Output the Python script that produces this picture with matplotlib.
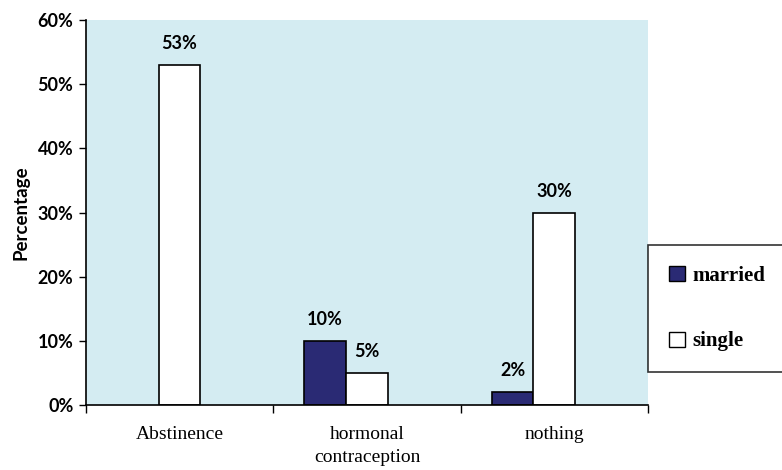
import matplotlib.pyplot as plt
import numpy as np
from matplotlib.patches import Patch

categories = ["Abstinence", "hormonal\ncontraception", "nothing"]
married = [0, 10, 2]
single = [53, 5, 30]
series_names = ["married", "single"]
y_ticks = [0, 10, 20, 30, 40, 50, 60]

MARRIED_COLOR = "#2a2a74"
BG_COLOR = "#d4ecf2"
SANS = ["Lato", "DejaVu Sans"]
SERIF = ["Liberation Serif", "DejaVu Serif"]

fig = plt.figure(figsize=(7.82, 4.70), dpi=100)
ax = fig.add_axes([86 / 782, 1 - 405 / 470, 562 / 782, 385 / 470])
ax.set_facecolor(BG_COLOR)

x = np.arange(len(categories))
width = 0.222
offset = -0.112
married_h = [m if m > 0 else np.nan for m in married]
ax.bar(x + offset - width / 2, married_h, width, color=MARRIED_COLOR,
       edgecolor="black", linewidth=1.2, zorder=3)
ax.bar(x + offset + width / 2, single, width, color="white",
       edgecolor="black", linewidth=1.2, zorder=3)

# value labels above bars (skip the empty married bar)
for xi, m, s in zip(x, married, single):
    if m > 0:
        ax.text(xi + offset - width / 2, m + 2.0, f"{m}%", ha="center", va="bottom",
                fontsize=13, fontweight="bold", family=SANS)
    ax.text(xi + offset + width / 2, s + 2.0, f"{s}%", ha="center", va="bottom",
            fontsize=13, fontweight="bold", family=SANS)

ax.set_xlim(-0.5, len(categories) - 0.5)
ax.set_ylim(0, 60)
ax.set_yticks(y_ticks)
ax.set_yticklabels([f"{t}%" for t in y_ticks], fontsize=13, fontweight="bold", family=SANS)
ax.tick_params(axis="y", direction="out", length=5, width=1, pad=4)

ax.set_xticks(x)
ax.set_xticklabels(categories, fontsize=14, family=SERIF, linespacing=1.45)
ax.tick_params(axis="x", which="major", length=0, pad=15)
ax.set_xticks(np.arange(len(categories) + 1) - 0.5, minor=True)
ax.tick_params(axis="x", which="minor", direction="out", length=6, width=1)

ax.set_ylabel("Percentage", fontsize=13.5, fontweight="bold", family=SANS, labelpad=6)

for side in ("top", "right"):
    ax.spines[side].set_visible(False)
for side in ("left", "bottom"):
    ax.spines[side].set_linewidth(1.2)
    ax.spines[side].set_zorder(4)

handles = [Patch(facecolor=MARRIED_COLOR, edgecolor="black", linewidth=1),
           Patch(facecolor="white", edgecolor="black", linewidth=1)]
leg = fig.legend(handles, series_names, loc="center left",
                 bbox_to_anchor=(638 / 782, 1 - 373 / 470, 160 / 782, 129 / 470),
                 mode="expand", frameon=True, fancybox=False, borderpad=1.0,
                 labelspacing=2.2, handlelength=0.75, handleheight=0.75,
                 handletextpad=0.35, prop={"family": SERIF, "weight": "bold", "size": 15})
leg.get_frame().set_edgecolor("black")
leg.get_frame().set_linewidth(1.2)

fig.savefig("out.png", dpi=100)
